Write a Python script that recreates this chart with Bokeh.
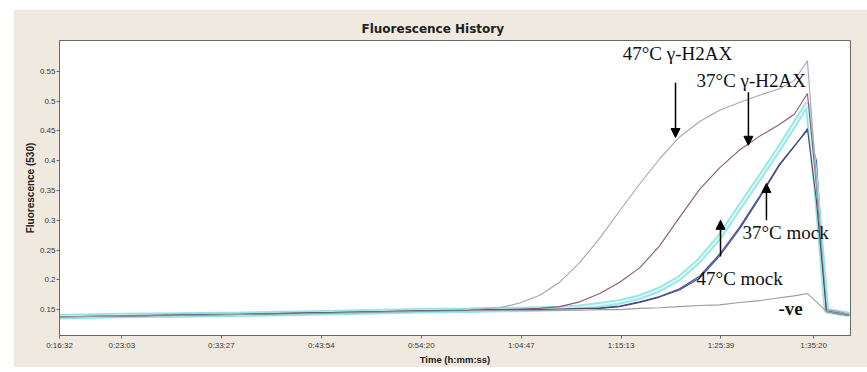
from bokeh.plotting import figure
from bokeh.models import Range1d, FixedTicker, Arrow, NormalHead, Label
from bokeh.embed import file_html
from bokeh.resources import INLINE

# ---- data -------------------------------------------------------------
time_s = [992, 1374, 1749, 2125, 2501, 2876, 3252, 3565, 3753, 3878, 4003, 4128,
          4253, 4379, 4504, 4629, 4754, 4879, 5005, 5130, 5255, 5380, 5505, 5599,
          5681, 5737, 5800, 5869, 5944]

h2ax_47 = [0.138, 0.140, 0.142, 0.143, 0.144, 0.146, 0.148, 0.150, 0.153, 0.161, 0.174, 0.196,
           0.229, 0.270, 0.316, 0.361, 0.403, 0.440, 0.466, 0.485, 0.498, 0.510, 0.521, 0.535,
           0.568, 0.367, 0.150, 0.147, 0.142]
h2ax_37 = [0.138, 0.139, 0.141, 0.142, 0.144, 0.146, 0.148, 0.149, 0.150, 0.151, 0.152, 0.155,
           0.163, 0.177, 0.196, 0.220, 0.257, 0.305, 0.352, 0.388, 0.418, 0.441, 0.461, 0.478,
           0.513, 0.359, 0.148, 0.145, 0.142]
mock_47 = [0.138, 0.140, 0.141, 0.142, 0.144, 0.146, 0.148, 0.149, 0.150, 0.150, 0.151, 0.152,
           0.154, 0.158, 0.163, 0.171, 0.184, 0.203, 0.233, 0.272, 0.322, 0.371, 0.421, 0.461,
           0.496, 0.351, 0.148, 0.145, 0.142]
mock_37 = [0.138, 0.139, 0.141, 0.142, 0.144, 0.146, 0.148, 0.149, 0.150, 0.150, 0.150, 0.151,
           0.152, 0.152, 0.155, 0.162, 0.171, 0.183, 0.203, 0.240, 0.285, 0.337, 0.392, 0.424,
           0.454, 0.334, 0.147, 0.143, 0.140]
mock_37_rep = [0.139, 0.140, 0.141, 0.142, 0.143, 0.145, 0.147, 0.149, 0.149, 0.150, 0.150, 0.151,
               0.152, 0.153, 0.156, 0.163, 0.172, 0.185, 0.206, 0.243, 0.288, 0.340, 0.394, 0.425,
               0.451, 0.400, 0.147, 0.144, 0.141]
negative = [0.138, 0.139, 0.140, 0.142, 0.143, 0.145, 0.147, 0.148, 0.149, 0.149, 0.149, 0.149,
            0.149, 0.150, 0.150, 0.152, 0.153, 0.155, 0.157, 0.158, 0.162, 0.165, 0.170, 0.173,
            0.177, 0.163, 0.147, 0.143, 0.140]

x_tick_values = [992, 1383, 2007, 2634, 3260, 3887, 4513, 5139, 5720]
x_tick_labels = ["0:16:32", "0:23:03", "0:33:27", "0:43:54", "0:54:20",
                 "1:04:47", "1:15:13", "1:25:39", "1:35:20"]
y_tick_values = [0.15, 0.2, 0.25, 0.3, 0.35, 0.4, 0.45, 0.5, 0.55]
y_tick_labels = ["0.15", "0.2", "0.25", "0.3", "0.35", "0.4", "0.45", "0.5", "0.55"]

ann_text = ["47°C γ-H2AX", "37°C γ-H2AX", "37°C mock", "47°C mock", "-ve"]
ann_x = [4523, 4986, 5274, 4986, 5499]
ann_y = [0.581, 0.535, 0.280, 0.202, 0.152]

arrow_x = [4854, 5311, 5424, 5136]
arrow_y_start = [0.531, 0.515, 0.300, 0.239]
arrow_y_end = [0.439, 0.426, 0.362, 0.300]

# ---- figure -----------------------------------------------------------
p = figure(width=854, height=358, margin=(9, 0, 5, 13),
           x_range=Range1d(992, 5951), y_range=Range1d(0.1065, 0.602),
           output_backend="svg", toolbar_location=None,
           min_border_left=46, min_border_right=17, min_border_top=31, min_border_bottom=31,
           title="Fluorescence History")

p.background_fill_color = "white"
p.border_fill_color = "#EFE9DF"
p.outline_line_color = "#6A6A6A"
p.outline_line_width = 1
p.grid.visible = False

p.title.text_font = "DejaVu Sans"
p.title.text_font_style = "bold"
p.title.text_font_size = "12px"
p.title.text_color = "#202020"
p.title.align = "left"
p.title.offset = 302
p.title.standoff = 9

for ax in (p.xaxis[0], p.yaxis[0]):
    ax.axis_line_color = "#6A6A6A"
    ax.major_tick_line_color = "#6A6A6A"
    ax.major_tick_out = 3
    ax.major_tick_in = 0
    ax.minor_tick_out = 0
    ax.minor_tick_in = 0
    ax.major_label_text_font = "Liberation Sans"
    ax.major_label_text_font_size = "8px"
    ax.major_label_text_color = "#3A3A3A"
    ax.axis_label_text_font = "Liberation Sans"
    ax.axis_label_text_font_style = "bold"
    ax.axis_label_text_color = "#202020"

p.xaxis.ticker = FixedTicker(ticks=x_tick_values)
p.xaxis.major_label_overrides = dict(zip(x_tick_values, x_tick_labels))
p.xaxis.axis_label = "Time (h:mm:ss)"
p.xaxis.axis_label_text_font_size = "9.5px"
p.xaxis.major_label_standoff = 2
p.xaxis.axis_label_standoff = 1

p.yaxis.ticker = FixedTicker(ticks=y_tick_values)
p.yaxis.major_label_overrides = dict(zip(y_tick_values, y_tick_labels))
p.yaxis.axis_label = "Fluorescence (530)"
p.yaxis.axis_label_text_font_size = "10px"
p.yaxis.major_label_standoff = 1
p.yaxis.axis_label_standoff = 1

# ---- curves -----------------------------------------------------------
p.line(time_s, mock_37_rep, line_color="#3350B0", line_width=1.2)
p.line(time_s, mock_47, line_color="#96E6E6", line_width=5.5)
p.line(time_s, mock_47, line_color="#D8F7F7", line_width=2)
p.line(time_s, h2ax_37, line_color="#8C5A6E", line_width=1.1)
p.line(time_s, h2ax_47, line_color="#A7A3B3", line_width=1.1)
p.line(time_s, mock_37, line_color="#52466E", line_width=1.1)
p.line(time_s, negative, line_color="#9C9C9C", line_width=1.1)

# ---- annotations ------------------------------------------------------
for t, x, y in zip(ann_text, ann_x, ann_y):
    p.add_layout(Label(x=x, y=y, text=t, text_font="Liberation Serif",
                       text_font_size="19px", text_baseline="middle",
                       text_color="#111111",
                       text_font_style="bold" if t == "-ve" else "normal"))

for x, y0, y1 in zip(arrow_x, arrow_y_start, arrow_y_end):
    p.add_layout(Arrow(end=NormalHead(size=9, fill_color="black", line_color="black"),
                       x_start=x, y_start=y0, x_end=x, y_end=y1,
                       line_color="black", line_width=1.5))

open("out.html", "w").write(file_html(p, INLINE))
